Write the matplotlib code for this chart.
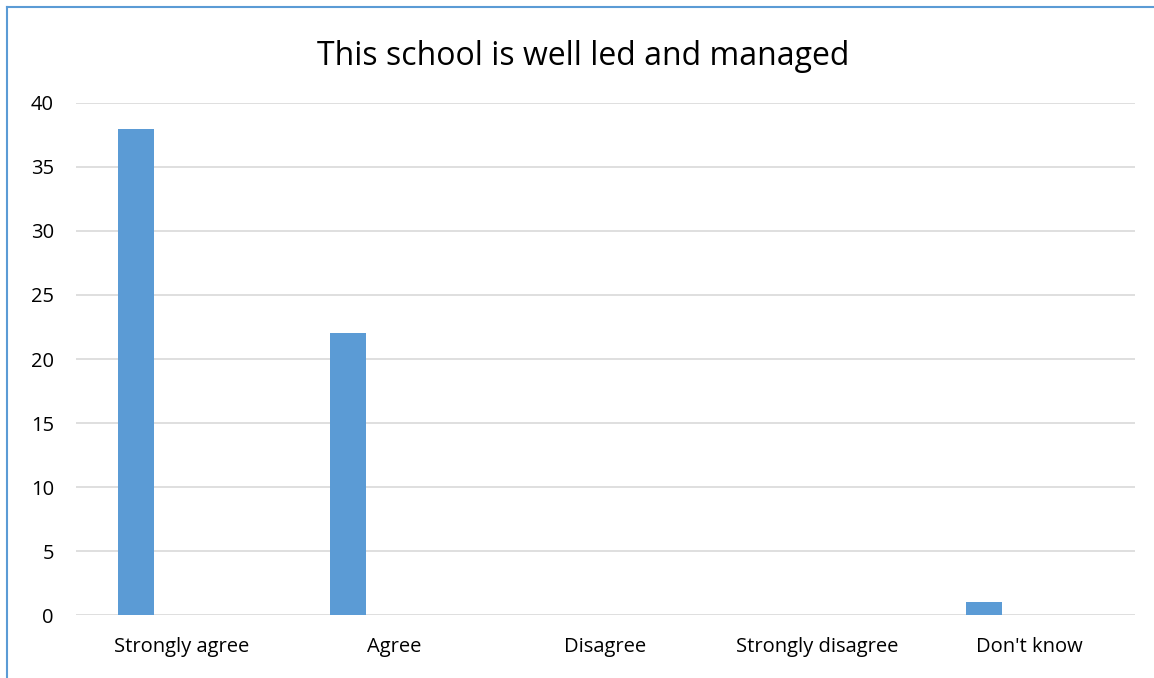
import matplotlib
matplotlib.use("Agg")
import matplotlib.pyplot as plt
from matplotlib.lines import Line2D

categories = ["Strongly agree", "Agree", "Disagree", "Strongly disagree", "Don't know"]
counts = [38, 22, 0, 0, 1]
yticks = [0, 5, 10, 15, 20, 25, 30, 35, 40]

plt.rcParams['font.family'] = ['Open Sans', 'DejaVu Sans']

fig = plt.figure(figsize=(11.54, 6.78), dpi=100)
ax = fig.add_axes([0.0659, 0.0929, 0.9176, 0.7552])

x = list(range(len(categories)))
ax.bar([i - 0.215 for i in x], counts, width=0.17, color="#5B9BD5", zorder=3)

ax.set_xlim(-0.5, len(categories) - 0.5)
ax.set_ylim(0, 40)
ax.set_yticks(yticks)
ax.set_xticks(x)
ax.set_xticklabels(categories)
ax.tick_params(axis='both', length=0, labelsize=14.5, colors="#000000")
ax.tick_params(axis='y', pad=16)
ax.tick_params(axis='x', pad=16)
ax.grid(axis='y', color="#d9d9d9", linewidth=1.2, zorder=0)
for s in ax.spines.values():
    s.set_visible(False)

fig.text(0.505, 0.917, "This school is well led and managed", ha='center', va='center',
         fontsize=23)

# chart border (top and left edges visible)
fig.add_artist(Line2D([7 / 1154, 1], [1 - 7 / 678, 1 - 7 / 678], color="#5B9BD5", linewidth=1.5))
fig.add_artist(Line2D([7 / 1154, 7 / 1154], [0, 1 - 7 / 678], color="#5B9BD5", linewidth=1.5))

fig.savefig("out.png", dpi=100)
